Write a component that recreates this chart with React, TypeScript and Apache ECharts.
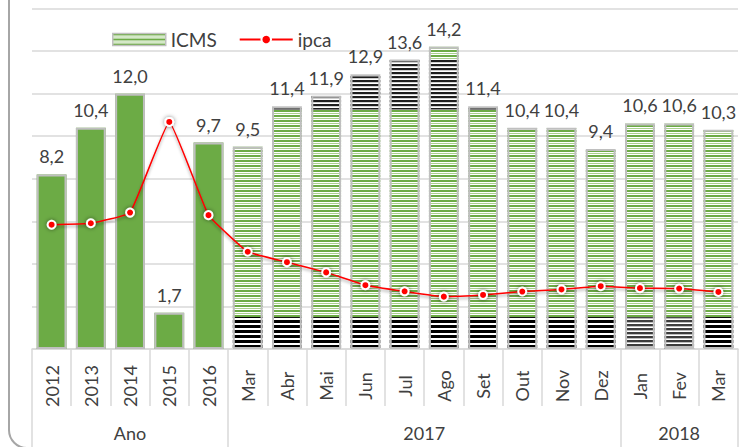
import React, { useEffect, useRef } from "react";
import * as echarts from "echarts";

const categories = ["2012", "2013", "2014", "2015", "2016", "Mar", "Abr", "Mai", "Jun", "Jul", "Ago", "Set", "Out", "Nov", "Dez", "Jan", "Fev", "Mar"];
const icms = [8.2, 10.4, 12.0, 1.7, 9.7, 9.5, 11.4, 11.9, 12.9, 13.6, 14.2, 11.4, 10.4, 10.4, 9.4, 10.6, 10.6, 10.3];
const ipca = [5.84, 5.91, 6.41, 10.67, 6.29, 4.57, 4.08, 3.6, 3.0, 2.71, 2.46, 2.54, 2.7, 2.8, 2.95, 2.86, 2.84, 2.68];
// annual bars (solid) vs monthly bars (striped)
const isAnnual = [true, true, true, true, true, false, false, false, false, false, false, false, false, false, false, false, false, false];
// dark bottom band of monthly bars
const bottomBand = [null, null, null, null, null, 1.5, 1.5, 1.5, 1.5, 1.5, 1.5, 1.5, 1.5, 1.5, 1.5, 1.5, 1.5, 1.5];
const bottomBandGray = [false, false, false, false, false, false, false, false, false, false, false, false, false, false, false, true, true, false];
// dark upper band of some monthly bars
const darkFrom = [null, null, null, null, null, null, 11.25, 11.25, 11.25, 11.25, 11.25, 11.25, null, null, null, null, null, null];
const darkTo = [null, null, null, null, null, null, 11.4, 11.9, 12.9, 13.6, 13.6, 11.4, null, null, null, null, null, null];
const groupNames = ["Ano", "2017", "2018"];
const groupBounds = [0, 5, 15, 18];
const groupCenters = [2.5, 10, 16.5];
const legendNames = ["ICMS", "ipca"];

function stripes(rows: string[]) {
  const c = document.createElement("canvas");
  c.width = 4;
  c.height = rows.length;
  const ctx = c.getContext("2d")!;
  rows.forEach((col, i) => {
    ctx.fillStyle = col;
    ctx.fillRect(0, i, 4, 1);
  });
  return { image: c.toDataURL(), repeat: "repeat", imageWidth: 4, imageHeight: rows.length } as any;
}

export default function App() {
  const ref = useRef<HTMLDivElement>(null);
  useEffect(() => {
    const chart = echarts.init(ref.current!, null, { renderer: "svg" });
    const green = "#6cab45";
    const greenPat = stripes([green, green, "#ffffff", "#a9d18e", "#ffffff"]);
    const blackPat = stripes(["#000000", "#000000", "#000000", "#ffffff", "#ffffff"]);
    const grayPat = stripes(["#3c3c3c", "#3c3c3c", "#bdbdbd", "#ffffff"]);
    const darkPat = stripes(["#1e1e1e", "#1e1e1e", "#cfcfcf", "#ffffff"]);

    const annualData = icms.map((v, i) => (isAnnual[i] ? v : "-"));
    const baseData = bottomBand.map((v, i) =>
      v == null ? "-" : { value: v, itemStyle: { color: bottomBandGray[i] ? grayPat : blackPat } }
    );
    const green1 = icms.map((v, i) => {
      if (isAnnual[i]) return "-";
      const top = darkFrom[i] != null ? (darkFrom[i] as number) : v;
      return +(top - (bottomBand[i] as number)).toFixed(3);
    });
    const darkData = icms.map((v, i) =>
      darkFrom[i] == null ? "-" : +((darkTo[i] as number) - (darkFrom[i] as number)).toFixed(3)
    );
    const green2 = icms.map((v, i) => {
      if (darkTo[i] == null) return "-";
      const d = +(v - (darkTo[i] as number)).toFixed(3);
      return d > 0 ? d : "-";
    });

    const bw = "76%";
    const fmt = (v: number) => v.toFixed(1).replace(".", ",");

    chart.setOption({
      animation: false,
      textStyle: { fontFamily: "Lato", color: "#404040" },
      grid: { left: 32, right: 9, top: 8.5, bottom: 98, outerBoundsMode: "none" } as any,
      legend: {
        left: 107,
        top: 25,
        itemWidth: 53,
        itemHeight: 12,
        itemGap: 22,
        textStyle: { fontSize: 19, color: "#404040", fontFamily: "Lato" },
        data: [
          { name: legendNames[0], icon: "rect", itemStyle: { color: greenPat, borderColor: "#bfbfbf", borderWidth: 1.5 } },
          { name: legendNames[1] },
        ],
      },
      xAxis: [
        {
          type: "category",
          data: categories,
          axisLine: { show: true, lineStyle: { color: "#d9d9d9", width: 1.5 } },
          axisTick: { show: true, length: 57, lineStyle: { color: "#d9d9d9", width: 1.5 } },
          axisLabel: {
            rotate: 90,
            align: "center",
            verticalAlign: "middle",
            margin: 37,
            fontSize: 18,
            color: "#404040",
            fontFamily: "Lato",
            interval: 0,
          },
        },
        {
          type: "value",
          min: 0,
          max: 18,
          position: "bottom",
          offset: 57,
          axisLine: { show: false },
          splitLine: { show: false },
          axisTick: {
            show: true,
            length: 42,
            customValues: groupBounds,
            lineStyle: { color: "#d9d9d9", width: 1.5 },
          },
          axisLabel: {
            show: true,
            customValues: groupCenters,
            formatter: (v: number) => groupNames[groupCenters.indexOf(v)] ?? "",
            margin: 18,
            fontSize: 18,
            color: "#404040",
            fontFamily: "Lato",
          },
        },
      ],
      yAxis: {
        type: "value",
        min: 0,
        max: 16,
        interval: 2,
        axisLabel: { show: false },
        axisLine: { show: false },
        axisTick: { show: false },
        splitLine: { lineStyle: { color: "#d9d9d9", width: 1.5 } },
      },
      graphic: [
        {
          type: "rect",
          shape: { x: 9, y: -20, width: 780, height: 468, r: 18 },
          style: { fill: "none", stroke: "#a6a6a6", lineWidth: 2 },
          silent: true,
          z: 100,
        },
      ],
      series: [
        { name: "annual", type: "bar", stack: "m", barWidth: bw, data: annualData, itemStyle: { color: green } },
        { name: "base", type: "bar", stack: "m", barWidth: bw, data: baseData, itemStyle: { color: blackPat } },
        { name: "ICMS", type: "bar", stack: "m", barWidth: bw, data: green1, itemStyle: { color: greenPat } },
        { name: "dark", type: "bar", stack: "m", barWidth: bw, data: darkData, itemStyle: { color: darkPat } },
        { name: "green2", type: "bar", stack: "m", barWidth: bw, data: green2, itemStyle: { color: greenPat } },
        {
          name: "outline",
          type: "bar",
          barWidth: bw,
          barGap: "-100%",
          data: icms,
          itemStyle: { color: "rgba(0,0,0,0)", borderColor: "#bfbfbf", borderWidth: 2 },
          label: {
            show: true,
            position: "top",
            distance: 9,
            fontSize: 18,
            color: "#404040",
            fontFamily: "Lato",
            formatter: (p: any) => fmt(p.value),
          },
        },
        {
          name: "ipca",
          type: "line",
          data: ipca,
          smooth: 0.1,
          symbol: "circle",
          symbolSize: 8,
          lineStyle: { color: "#ff0000", width: 1.5, shadowBlur: 3, shadowColor: "rgba(0,0,0,0.35)", shadowOffsetY: 2 },
          itemStyle: { color: "#ff0000", borderColor: "#ffffff", borderWidth: 2, shadowBlur: 4, shadowColor: "rgba(0,0,0,0.5)" },
          z: 5,
        },
      ],
    });
    return () => chart.dispose();
  }, []);
  return <div ref={ref} style={{ position: "absolute", left: 0, top: 0, width: 747, height: 447 }} />;
}
